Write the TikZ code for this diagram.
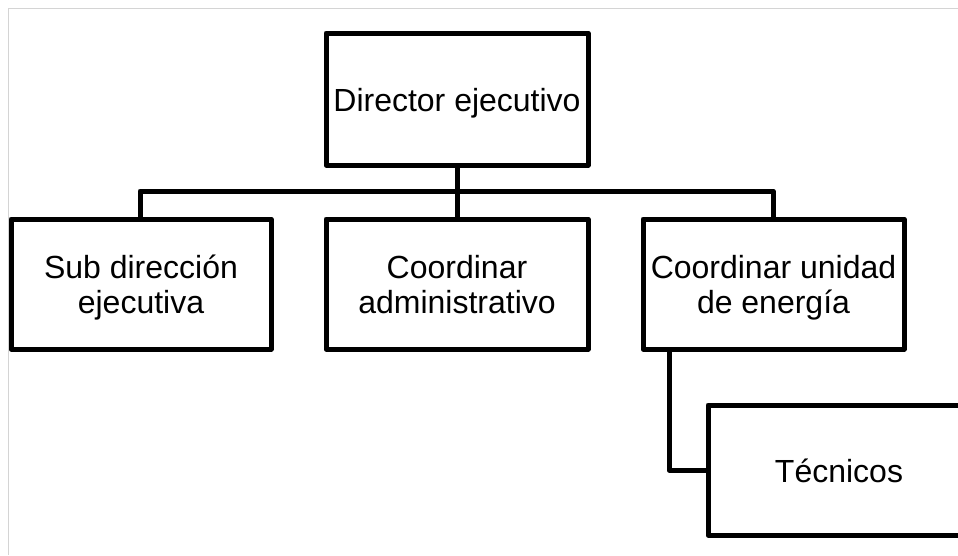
\documentclass[tikz,border=0pt]{standalone}
\usepackage{fontspec}
\setmainfont{Liberation Sans}
% box caption: centred lines, set a little below the middle of the box
\newcommand\boxtext[1]{\raisebox{-5pt}[\height][\depth]{\begin{tabular}{@{}c@{}}#1\end{tabular}}}
\begin{document}
\begin{tikzpicture}[x=1pt,y=-1pt,
  orgbox/.style={draw=black, line width=5pt, line join=round, fill=white,
    minimum width=262pt, minimum height=130pt, inner sep=0pt,
    font=\fontsize{32}{35}\selectfont},
  link/.style={draw=black, line width=5pt, line join=round},
  frame/.style={draw=black!17, line width=1.5pt}]
  \useasboundingbox (0,0) rectangle (958,555);
  \clip (0,0) rectangle (958,555);
  % page frame
  \draw[frame] (8.5,555) -- (8.5,8.5) -- (958,8.5);

  % boxes
  \node[orgbox, minimum height=132pt] (dir) at (457,99) {\boxtext{Director ejecutivo}};
  \node[orgbox, minimum width=260pt] (sub) at (141,284) {\boxtext{Sub dirección\\ejecutiva}};
  \node[orgbox] (adm) at (457,284) {\boxtext{Coordinar\\administrativo}};
  \node[orgbox, minimum width=261pt] (ene) at (773.5,284) {\boxtext{Coordinar unidad\\de energía}};
  \node[orgbox] (tec) at (839,470) {\boxtext{Técnicos}};

  % connectors
  \coordinate (bus) at (457,191);
  \draw[link] (dir.south) -- (adm.north);
  \draw[link] ([xshift=-1pt]sub.north) -- ([xshift=-1pt]sub.north |- bus)
              -- ([xshift=-0.5pt]ene.north |- bus) -- ([xshift=-0.5pt]ene.north);
  \draw[link] ([xshift=-104.5pt]ene.south) |- (tec.west);
\end{tikzpicture}
\end{document}
